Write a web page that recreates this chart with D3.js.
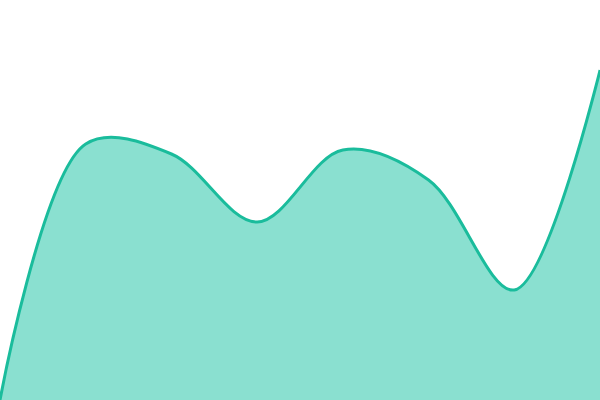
<!DOCTYPE html>
<html>
<head>
<meta charset="utf-8">
<script src="https://cdn.jsdelivr.net/npm/d3@7"></script>
<style>
  body { margin: 0; background: #fff; }
</style>
</head>
<body>
<script>
// DATA
const steps = [0, 1, 2, 3, 4, 5, 6, 7];
const values = [0, 64, 61.5, 44.5, 62.5, 55, 27.5, 82.5];

const svgwidth = 600;
const svgheight = 400;

const svg = d3.select("body").append("svg")
    .attr("width", svgwidth)
    .attr("height", svgheight);

const X = d3.scaleLinear().domain([0, steps.length - 1]).range([0, svgwidth]);
const Y = d3.scaleLinear().domain([0, 100]).range([svgheight, 0]);

const pts = steps.map((s, i) => ({ s: s, v: values[i] }));

// AREA
svg.append("path")
    .attr("fill", "#8ae0d0")
    .attr("d", d3.area()
        .x(d => X(d.s))
        .y0(Y(0))
        .y1(d => Y(d.v))
        .curve(d3.curveCatmullRom)(pts));

// LINE
svg.append("path")
    .attr("fill", "none")
    .attr("stroke", "#1abc9c")
    .attr("stroke-width", 3)
    .attr("d", d3.line()
        .x(d => X(d.s))
        .y(d => Y(d.v))
        .curve(d3.curveCatmullRom)(pts));
</script>
</body>
</html>
